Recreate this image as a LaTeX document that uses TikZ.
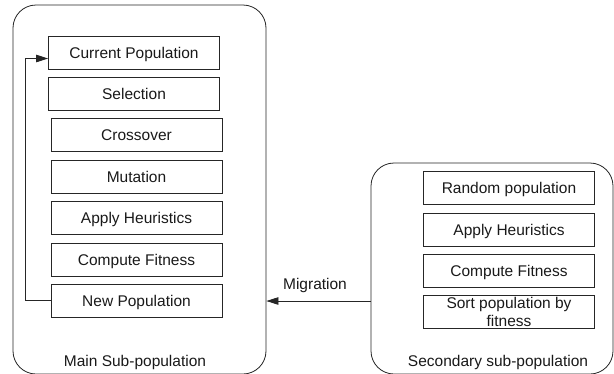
\documentclass[tikz,border=0pt]{standalone}
\usepackage{fontspec}
\setmainfont{Liberation Sans}
\usetikzlibrary{arrows.meta}
\begin{document}
\begin{tikzpicture}[x=1pt,y=-1pt,
  every node/.style={font=\fontsize{15.5}{18}\selectfont,text=black!90},
  container/.style={draw=black!85,line width=0.8pt,rounded corners=23pt,inner sep=0pt},
  stepbase/.style={draw=black!85,line width=0.8pt,minimum width=171pt,minimum height=33pt,inner sep=0pt,align=center},
  stepbox/.style={stepbase,text height=11pt,text depth=0pt},
  arr/.style={draw=black!85,line width=0.8pt,-{Triangle[length=12pt,width=7.5pt]}},
  caplabel/.style={inner sep=0pt,text height=11pt,text depth=0pt}]
\useasboundingbox (0,0) rectangle (614,373);
\clip (0,0) rectangle (614,373);
% containers
\node[container,minimum width=253pt,minimum height=369pt] (main) at (139.5,189.5) {};
\node[container,minimum width=242pt,minimum height=211pt] (sec) at (492,268.5) {};
% main boxes
\node[stepbox] (curpop) at (134,52.5) {Current Population};
\node[stepbox] (sel) at (134,94) {Selection};
\node[stepbox] (cross) at (136.5,135) {Crossover};
\node[stepbox] (mut) at (136.5,176.5) {Mutation};
\node[stepbox] (heur) at (136.5,218) {Apply Heuristics};
\node[stepbox] (fit) at (136.5,259.5) {Compute Fitness};
\node[stepbox] (newpop) at (136.5,300.5) {New Population};
\node[caplabel] (mainlbl) at (135,360.5) {Main Sub-population};
% secondary boxes
\node[stepbox] (rand) at (509,188) {Random population};
\node[stepbox] (sheur) at (509,229.5) {Apply Heuristics};
\node[stepbox] (sfit) at (509,271) {Compute Fitness};
\node[stepbase] (sort) at (509,312) {Sort population by\\fitness};
\node[caplabel] (seclbl) at (498,360.5) {Secondary sub-population};
% loop arrow
\draw[arr] (newpop.west) -- ++(-25,0) |- ([yshift=-6pt]curpop.west);
% migration
\coordinate (mstart) at (sec.west |- 0,301);
\coordinate (mend) at (main.east |- 0,301);
\draw[arr] (mstart) -- (mend);
\node[caplabel] (miglbl) at (315,283.5) {Migration};
\end{tikzpicture}
\end{document}
